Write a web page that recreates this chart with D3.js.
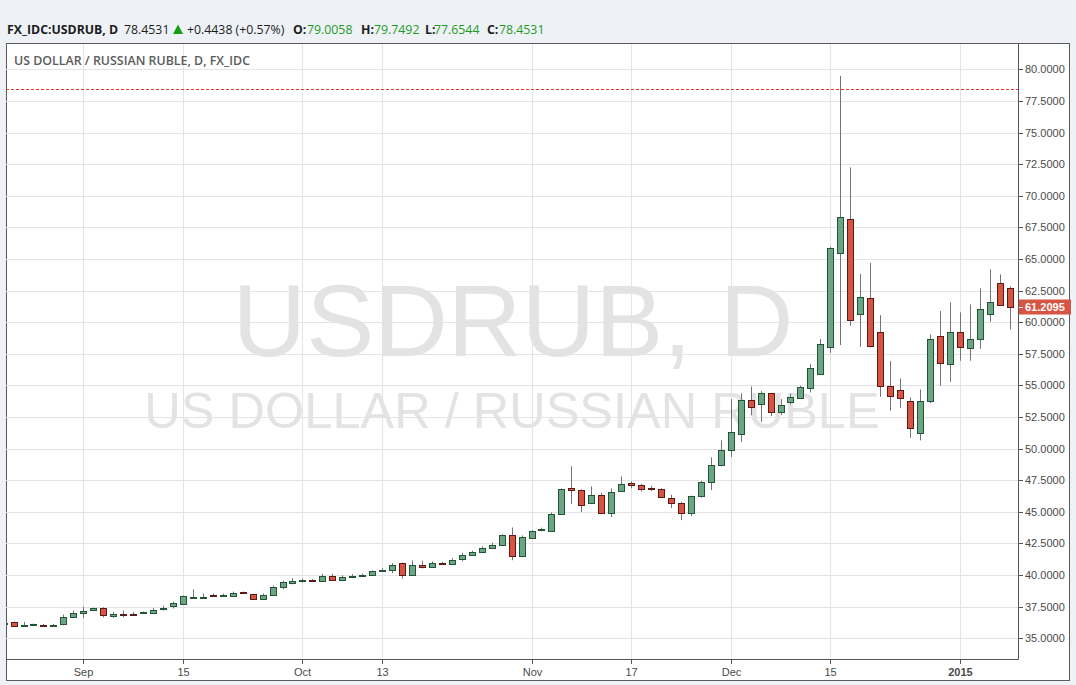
<!DOCTYPE html>
<html><head><meta charset="utf-8">
<script src="https://cdn.jsdelivr.net/npm/d3@7"></script>
<style>
html,body{margin:0;padding:0;background:#eef2f6;}
svg{display:block;}
</style></head>
<body>
<svg id="chart" width="1076" height="685"></svg>
<script>
// ---- data ----
const dates = [
"2014-08-20","2014-08-21","2014-08-22","2014-08-25","2014-08-26","2014-08-27","2014-08-28","2014-08-29",
"2014-09-01","2014-09-02","2014-09-03","2014-09-04","2014-09-05","2014-09-08","2014-09-09","2014-09-10","2014-09-11","2014-09-12",
"2014-09-15","2014-09-16","2014-09-17","2014-09-18","2014-09-19","2014-09-22","2014-09-23","2014-09-24","2014-09-25","2014-09-26","2014-09-29","2014-09-30",
"2014-10-01","2014-10-02","2014-10-03","2014-10-06","2014-10-07","2014-10-08","2014-10-09","2014-10-10","2014-10-13","2014-10-14","2014-10-15","2014-10-16","2014-10-17","2014-10-20","2014-10-21","2014-10-22","2014-10-23","2014-10-24","2014-10-27","2014-10-28","2014-10-29","2014-10-30","2014-10-31",
"2014-11-03","2014-11-04","2014-11-05","2014-11-06","2014-11-07","2014-11-10","2014-11-11","2014-11-12","2014-11-13","2014-11-14","2014-11-17","2014-11-18","2014-11-19","2014-11-20","2014-11-21","2014-11-24","2014-11-25","2014-11-26","2014-11-27","2014-11-28",
"2014-12-01","2014-12-02","2014-12-03","2014-12-04","2014-12-05","2014-12-08","2014-12-09","2014-12-10","2014-12-11","2014-12-12","2014-12-15","2014-12-16","2014-12-17","2014-12-18","2014-12-19","2014-12-22","2014-12-23","2014-12-24","2014-12-25","2014-12-26","2014-12-29","2014-12-30","2014-12-31",
"2015-01-01","2015-01-02","2015-01-05","2015-01-06","2015-01-07","2015-01-08"];

const open = [
36.17,36.29,35.98,36.06,36.05,35.99,36.13,36.69,
37.02,37.25,37.42,36.77,36.95,36.90,37.00,37.00,37.28,37.52,
37.72,38.24,38.24,38.40,38.36,38.32,38.62,38.51,38.12,38.43,39.03,39.40,
39.52,39.62,39.54,39.94,39.62,39.86,39.94,40.01,40.33,40.41,40.91,39.99,40.80,40.62,40.97,40.86,41.25,41.60,41.81,42.12,42.40,43.13,41.47,
42.94,43.55,43.50,44.85,46.85,46.75,45.72,46.35,44.92,46.67,47.25,47.15,46.86,46.83,46.09,45.72,44.93,46.28,47.38,48.73,
49.92,51.19,53.88,53.49,54.36,52.93,53.72,54.04,54.76,55.94,58.01,65.44,68.13,60.62,61.88,59.19,54.92,54.60,53.73,51.20,53.73,58.88,56.66,
59.19,57.93,58.64,60.62,63.07,62.67];

const high = [
36.25,36.31,36.29,36.16,36.13,36.13,36.87,37.19,
37.48,37.42,37.45,37.08,37.19,37.08,37.12,37.40,37.58,37.90,
38.38,38.85,38.53,38.53,38.53,38.69,38.69,38.53,38.53,39.17,39.56,39.75,
39.70,39.68,40.10,40.10,39.98,40.06,40.12,40.36,40.55,40.94,40.99,41.15,41.12,41.07,41.03,41.35,41.76,41.93,42.26,42.55,43.22,43.76,43.13,
43.55,43.74,44.95,46.85,48.60,46.78,47.01,46.51,46.85,47.80,47.42,47.20,47.05,46.86,46.35,45.80,46.28,47.45,49.31,50.66,
53.91,54.38,54.92,54.55,54.40,53.91,54.36,54.99,56.70,58.66,65.97,79.49,72.25,63.81,64.68,60.56,56.92,55.55,54.05,54.68,59.03,60.88,61.57,
60.78,61.41,62.67,64.18,63.78,62.83];

const low = [
36.12,35.92,35.96,36.00,35.98,35.97,36.02,36.66,
36.61,37.20,36.65,36.61,36.65,36.82,36.95,36.98,37.19,37.35,
37.68,38.14,38.22,38.33,38.30,38.30,38.50,38.10,38.10,38.40,38.87,39.26,
39.40,39.45,39.52,39.60,39.60,39.80,39.88,40.00,40.24,40.14,39.72,39.97,40.51,40.60,40.85,40.84,41.09,41.58,41.79,42.10,42.38,41.17,41.40,
42.92,43.46,43.48,44.83,45.61,44.98,45.70,44.90,44.58,46.60,46.85,46.60,46.65,46.18,45.29,44.34,44.66,46.12,46.72,48.60,
49.34,50.52,52.64,52.11,52.58,52.66,53.49,53.95,54.44,55.90,57.58,58.19,59.72,58.05,58.00,54.10,52.99,53.23,50.85,50.65,53.60,54.97,55.28,
56.95,56.95,57.90,60.03,61.30,59.43];

const close = [
36.22,35.94,36.03,36.09,36.00,36.05,36.69,37.00,
37.15,37.38,36.81,36.95,36.87,36.85,37.05,37.26,37.35,37.76,
38.30,38.29,38.28,38.36,38.40,38.61,38.57,38.12,38.43,39.06,39.41,39.55,
39.60,39.55,39.94,39.62,39.86,39.94,40.02,40.33,40.42,40.81,39.99,40.83,40.63,40.97,40.90,41.20,41.59,41.84,42.16,42.40,43.13,41.47,42.97,
43.50,43.62,44.85,46.83,46.75,45.56,46.35,44.92,46.59,47.23,47.15,46.83,46.80,46.20,45.72,44.93,46.25,47.38,48.70,49.89,
51.35,53.88,53.33,54.36,52.93,53.41,54.12,54.84,56.34,58.24,65.84,68.29,60.14,61.96,58.11,54.92,54.13,53.97,51.60,53.73,58.64,56.74,59.19,
58.01,58.64,61.01,61.57,61.33,61.2095];

const tickDates  = ["2014-09-01","2014-09-15","2014-10-01","2014-10-13","2014-11-03","2014-11-17","2014-12-01","2014-12-15","2015-01-01"];
const tickLabels = ["Sep","15","Oct","13","Nov","17","Dec","15","2015"];
const priceTicks = [35,37.5,40,42.5,45,47.5,50,52.5,55,57.5,60,62.5,65,67.5,70,72.5,75,77.5,80];
const lastPrice = 61.2095;
const markerPrice = 78.4531;

// ---- layout ----
const svg = d3.select("#chart");
const W = 1076, H = 685;
const panel = {x0: 6, y0: 43, x1: 1069, y1: 680};
const plot = {x0: 6, x1: 1018, y0: 43, y1: 659};

const idx = dates.map((d,i)=>i);
const iSep1 = dates.indexOf("2014-09-01"), iJan1 = dates.indexOf("2015-01-01");
const x = d3.scaleLinear().domain([iSep1, iJan1]).range([83.3, 959.8]);
const y = d3.scaleLinear().domain([35, 80]).range([638.2, 69.4]);

svg.append("rect").attr("width", W).attr("height", H).attr("fill", "#eef2f6");
svg.append("rect").attr("x", panel.x0+0.5).attr("y", panel.y0+0.5)
  .attr("width", panel.x1-panel.x0).attr("height", panel.y1-panel.y0)
  .attr("fill", "#fff").attr("stroke", "#5a5a5a").attr("stroke-width", 1);

// header
const hdr = svg.append("g").attr("font-family", "'Open Sans', 'DejaVu Sans', sans-serif").attr("font-size", 12.3);
const hy = 34;
const parts = [
  {t:"FX_IDC:USDRUB, D", x:7, w:700, c:"#1c1c1c"},
  {t:"78.4531", x:124, w:400, c:"#1c1c1c"},
  {t:"+0.4438 (+0.57%)", x:187, w:400, c:"#1c1c1c"},
  {t:"O:", x:293, w:700, c:"#1c1c1c"},
  {t:"79.0058", x:307, w:400, c:"#1d9b1d"},
  {t:"H:", x:361, w:700, c:"#1c1c1c"},
  {t:"79.7492", x:374, w:400, c:"#1d9b1d"},
  {t:"L:", x:425, w:700, c:"#1c1c1c"},
  {t:"77.6544", x:434, w:400, c:"#1d9b1d"},
  {t:"C:", x:487, w:700, c:"#1c1c1c"},
  {t:"78.4531", x:499, w:400, c:"#1d9b1d"}
];
parts.forEach(p => hdr.append("text").attr("x", p.x).attr("y", hy).attr("fill", p.c)
  .attr("font-weight", p.w).text(p.t));
hdr.append("path").attr("d", "M173,34 L178,24.5 L183,34 Z").attr("fill", "#12a012");

// clip
svg.append("clipPath").attr("id","clip").append("rect")
  .attr("x", plot.x0+1).attr("y", plot.y0+1).attr("width", plot.x1-plot.x0-1).attr("height", plot.y1-plot.y0-1);

// grid
const grid = svg.append("g").attr("stroke", "#e4e4e4").attr("stroke-width", 1);
priceTicks.forEach(v => grid.append("line").attr("x1", plot.x0).attr("x2", plot.x1)
  .attr("y1", Math.round(y(v))+0.5).attr("y2", Math.round(y(v))+0.5));
tickDates.forEach(d => { const xx = Math.round(x(dates.indexOf(d)))+0.5;
  grid.append("line").attr("x1", xx).attr("x2", xx).attr("y1", plot.y0+1).attr("y2", plot.y1); });

// watermark
const wm = svg.append("g").attr("font-family", "'Liberation Sans', Arial, sans-serif")
  .attr("fill", "#e3e3e3").attr("text-anchor", "middle");
wm.append("text").attr("x", 513).attr("y", 356).attr("font-size", 102).text("USDRUB, D");
wm.append("text").attr("x", 512).attr("y", 428).attr("font-size", 50.5).text("US DOLLAR / RUSSIAN RUBLE");

// chart title inside
svg.append("text").attr("x", 14).attr("y", 65).attr("font-family", "'Open Sans', sans-serif")
  .attr("font-size", 12.4).attr("font-weight", 600).attr("fill", "#5b5b5b")
  .text("US DOLLAR / RUSSIAN RUBLE, D, FX_IDC");

// marker dotted line
svg.append("line").attr("x1", plot.x0).attr("x2", plot.x1)
  .attr("y1", Math.round(y(markerPrice))+0.5).attr("y2", Math.round(y(markerPrice))+0.5)
  .attr("stroke", "#ee3a20").attr("stroke-width", 1).attr("stroke-dasharray", "3,2");

// candles
const cg = svg.append("g").attr("clip-path", "url(#clip)");
idx.forEach(i => {
  const cx = Math.round(x(i));
  const up = close[i] >= open[i];
  cg.append("line").attr("x1", cx+0.5).attr("x2", cx+0.5)
    .attr("y1", y(high[i])).attr("y2", y(low[i]))
    .attr("stroke", "#737375").attr("stroke-width", 1);
  const yt = Math.round(y(Math.max(open[i], close[i])));
  const yb = Math.round(y(Math.min(open[i], close[i])));
  cg.append("rect").attr("x", cx-2.5).attr("y", yt+0.5)
    .attr("width", 6).attr("height", Math.max(1, yb-yt))
    .attr("fill", up ? "#6ba583" : "#d75442")
    .attr("stroke", up ? "#225437" : "#5b1a13").attr("stroke-width", 1);
});

// axes lines
svg.append("line").attr("x1", plot.x1+0.5).attr("x2", plot.x1+0.5).attr("y1", plot.y0).attr("y2", plot.y1+0.5)
  .attr("stroke", "#555").attr("stroke-width", 1);
svg.append("line").attr("x1", plot.x0).attr("x2", plot.x1+0.5).attr("y1", plot.y1+0.5).attr("y2", plot.y1+0.5)
  .attr("stroke", "#555").attr("stroke-width", 1);

// price axis
const ya = svg.append("g").attr("font-family", "'Liberation Sans', Arial, sans-serif").attr("font-size", 11).attr("fill", "#4a4a4a");
priceTicks.forEach(v => {
  const yy = Math.round(y(v))+0.5;
  ya.append("line").attr("x1", plot.x1).attr("x2", plot.x1+5).attr("y1", yy).attr("y2", yy).attr("stroke", "#555");
  ya.append("text").attr("x", 1025).attr("y", yy).attr("dy", "0.35em").text(d3.format(".4f")(v));
});

// time axis
const xa = svg.append("g").attr("font-family", "'Liberation Sans', Arial, sans-serif").attr("font-size", 11)
  .attr("fill", "#4a4a4a").attr("text-anchor", "middle");
tickDates.forEach((d,k) => {
  const xx = Math.round(x(dates.indexOf(d)))+0.5;
  xa.append("line").attr("x1", xx).attr("x2", xx).attr("y1", plot.y1).attr("y2", plot.y1+5).attr("stroke", "#555");
  xa.append("text").attr("x", xx).attr("y", 676).attr("font-weight", tickLabels[k]==="2015" ? 700 : 400).text(tickLabels[k]);
});

// last price label
const ly = Math.round(y(lastPrice));
svg.append("rect").attr("x", plot.x1+1).attr("y", ly-7.5).attr("width", 52).attr("height", 15).attr("fill", "#d75442");
svg.append("line").attr("x1", plot.x1+1).attr("x2", plot.x1+5).attr("y1", ly+0.5).attr("y2", ly+0.5).attr("stroke", "#fff");
svg.append("text").attr("x", 1025).attr("y", ly).attr("dy", "0.35em")
  .attr("font-family", "'Liberation Sans', Arial, sans-serif").attr("font-size", 11).attr("font-weight", 700)
  .attr("fill", "#fff").text(d3.format(".4f")(lastPrice));
</script>
</body></html>
